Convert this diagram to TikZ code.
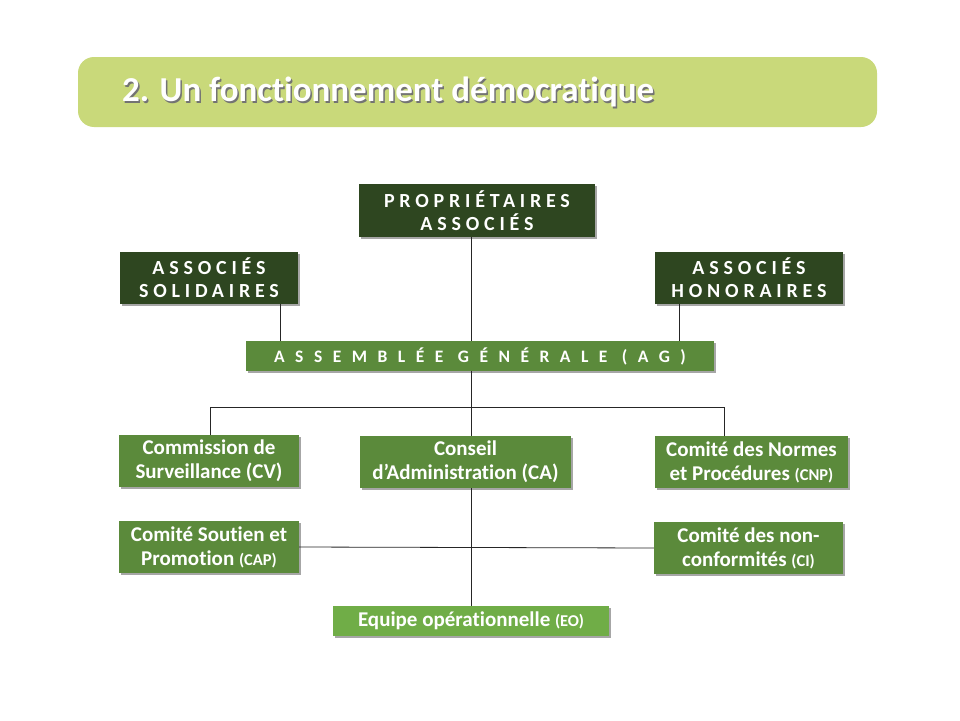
\documentclass[tikz,border=0pt]{standalone}
\usepackage{fontspec}
\setmainfont[Ligatures=NoCommon]{Carlito}
\usetikzlibrary{shadows}
\definecolor{titlebg}{HTML}{C9D97A}
\definecolor{darkg}{HTML}{2E4620}
\definecolor{midg}{HTML}{5B8A3B}
\definecolor{lightg}{HTML}{70AD47}
\tikzset{
  box/.style={draw=none, text=white, font=\bfseries\fontsize{21}{24}\selectfont, align=center, inner sep=0pt,
    drop shadow={shadow xshift=2pt, shadow yshift=-2pt, opacity=0.35, fill=black}},
  dark/.style={box, fill=darkg, font=\bfseries\fontsize{20}{23}\selectfont\addfontfeature{LetterSpace=24}},
  mid/.style={box, fill=midg},
  light/.style={box, fill=lightg},
  conn/.style={draw=black!85, line width=0.8pt},
  titlefont/.style={font=\bfseries\fontsize{35}{40}\selectfont}
}
\newcommand{\sm}[1]{{\fontsize{16.5}{18}\selectfont #1}}
\begin{document}
\begin{tikzpicture}[x=1pt,y=-1pt]
\useasboundingbox (0,0) rectangle (960,720);
\fill[white] (0,0) rectangle (960,720);
% title
\node[fill=titlebg, rounded corners=16pt, minimum width=799pt, minimum height=70pt, inner sep=0pt] (title) at (477.5,92) {};
\node[anchor=west, text=black!55, titlefont] at (120,93.5) {2. Un fonctionnement démocratique};
\node[anchor=west, text=white, titlefont] (ttext) at (118.5,92) {2. Un fonctionnement démocratique};
% nodes
\node[dark, minimum width=236pt, minimum height=53pt] (pa) at (477,210.5) {PROPRIÉTAIRES\\ASSOCIÉS};
\node[dark, minimum width=178pt, minimum height=52pt] (as) at (209,278) {ASSOCIÉS\\SOLIDAIRES};
\node[dark, minimum width=188pt, minimum height=52pt] (ah) at (749,278) {ASSOCIÉS\\HONORAIRES};
\node[mid, minimum width=468pt, minimum height=30pt, font=\bfseries\fontsize{17.5}{20}\selectfont\addfontfeature{LetterSpace=60}] (ag) at (480,356) {ASSEMBLÉE GÉNÉRALE (AG)};
\node[mid, minimum width=180pt, minimum height=52pt] (cv) at (209,461) {Commission de\\Surveillance (CV)};
\node[mid, minimum width=211pt, minimum height=52pt] (ca) at (465.5,462) {Conseil\\d’Administration (CA)};
\node[mid, minimum width=193pt, minimum height=52pt] (cnp) at (751.5,462) {Comité des Normes\\et Procédures \sm{(CNP)}};
\node[mid, minimum width=180pt, minimum height=52pt] (cap) at (209,547) {Comité Soutien et\\Promotion \sm{(CAP)}};
\node[mid, minimum width=189pt, minimum height=52pt] (ci) at (748.5,548) {Comité des non-\\conformités \sm{(CI)}};
\node[light, minimum width=276pt, minimum height=30pt] (eo) at (471,621) {Equipe opérationnelle \sm{(EO)}};
% connectors
\coordinate (hl) at (210,407);
\coordinate (hr) at (724,407);
\coordinate (hm) at (471,407);
\draw[conn] (pa.south -| hm) -- (ag.north -| hm);
\draw[conn] (ag.south -| hm) -- (ca.north -| hm);
\draw[conn] (as.south -| 280,0) -- (ag.north -| 280,0);
\draw[conn] (ah.south -| 679,0) -- (ag.north -| 679,0);
\draw[conn] (cv.north -| hl) -- (hl) -- (hr) -- (cnp.north -| hr);
\draw[conn] (ca.south -| hm) -- (eo.north -| hm);
\draw[conn] (cap.east) -- (ci.west);
\end{tikzpicture}
\end{document}
